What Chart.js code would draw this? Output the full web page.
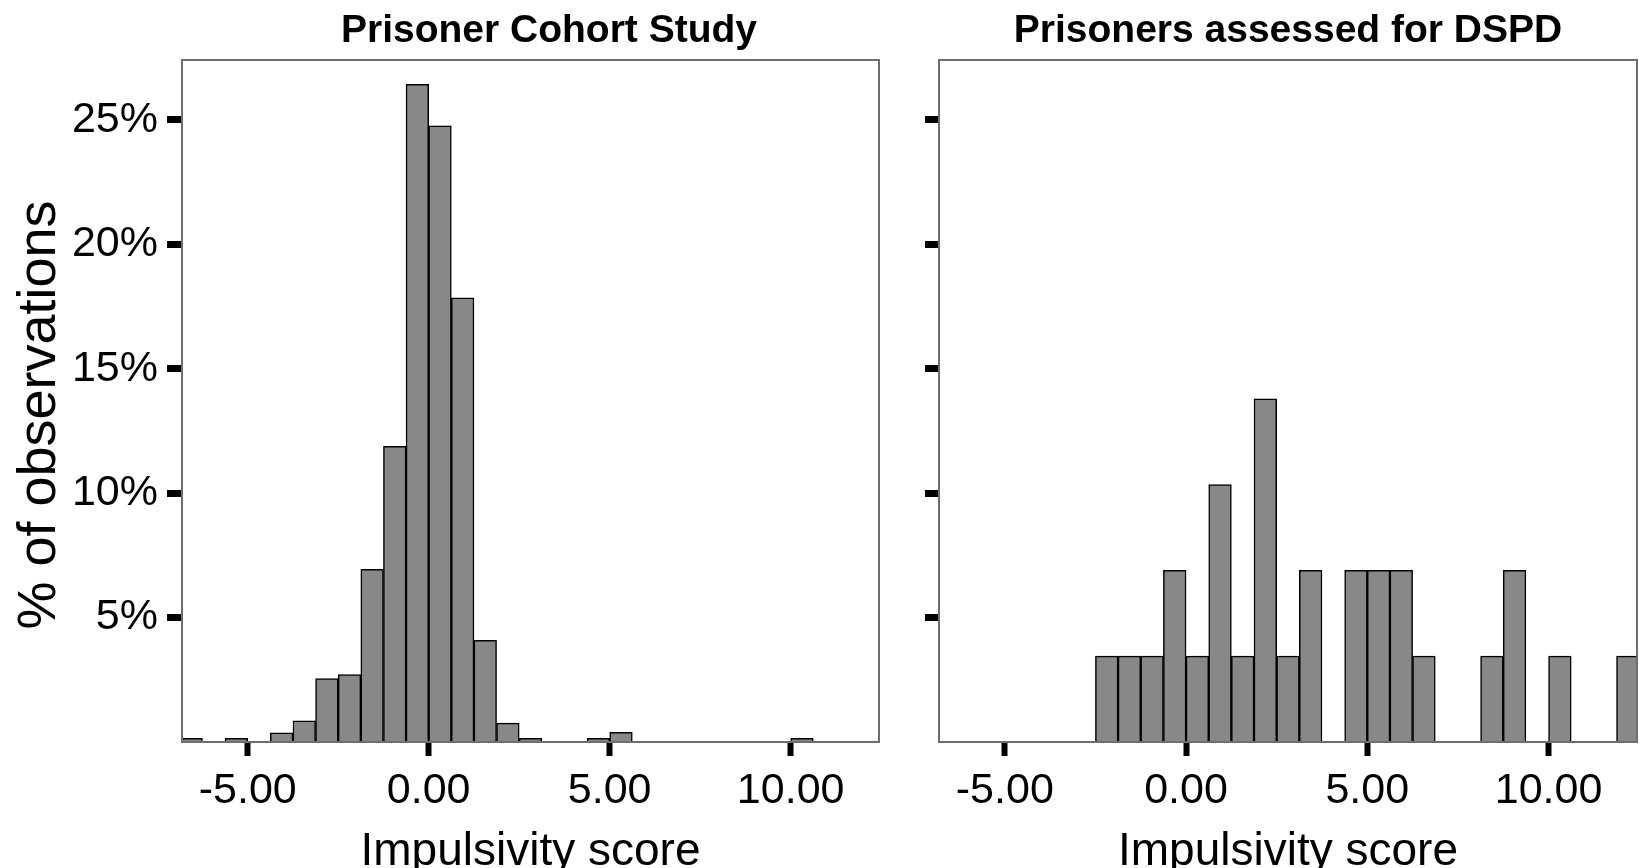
<!DOCTYPE html>
<html><head><meta charset="utf-8">
<script src="https://cdn.jsdelivr.net/npm/chart.js@4.4.0/dist/chart.umd.min.js"></script>
<style>
html,body{margin:0;padding:0;background:#fff;width:1639px;height:868px;overflow:hidden;}
canvas{position:absolute;top:0;}
#c1{left:0;z-index:1;}
#c2{left:900px;z-index:2;}
</style></head><body>
<canvas id="c1" width="1098" height="868"></canvas>
<canvas id="c2" width="739" height="868"></canvas>
<script>
// Histogram bin centres (bin width 0.625)
const binCenters = [-6.5625,-5.9375,-5.3125,-4.6875,-4.0625,-3.4375,-2.8125,-2.1875,-1.5625,-0.9375,
  -0.3125,0.3125,0.9375,1.5625,2.1875,2.8125,3.4375,4.0625,4.6875,5.3125,
  5.9375,6.5625,7.1875,7.8125,8.4375,9.0625,9.6875,10.3125,10.9375,11.5625,12.1875];
// % of observations, Prisoner Cohort Study
const cohortPct = [0.15,null,0.15,null,0.37,0.85,2.55,2.71,6.94,11.88,
  26.42,24.76,17.84,4.08,0.76,0.15,null,null,0.15,0.39,
  null,null,null,null,null,null,null,0.15,null,null,null];
// % of observations, Prisoners assessed for DSPD
const dspdPct = [null,null,null,null,null,null,null,3.45,3.45,3.45,
  6.90,3.45,10.34,3.45,13.79,3.45,6.90,null,6.90,6.90,
  6.90,3.45,null,null,3.45,6.90,null,3.45,null,null,3.45];
const xTickValues = [-5, 0, 5, 10];
const yTickValues = [5, 10, 15, 20, 25];
const panelTitles = ['Prisoner Cohort Study', 'Prisoners assessed for DSPD'];
const xAxisTitle = 'Impulsivity score';
const yAxisTitle = '% of observations';

Chart.defaults.font.family = "'Liberation Sans', Arial, sans-serif";
Chart.defaults.color = '#000';

const framePlugin = {
  id: 'frame',
  afterLayout(chart) {
    // nudge the y-axis title slightly lower (ticks are already configured)
    const y = chart.scales.y;
    if (y && y.options.title.display) { y.top += 14; y.bottom += 14; }
  },
  afterDatasetsDraw(chart) {
    const a = chart.chartArea, ctx = chart.ctx;
    ctx.save();
    ctx.strokeStyle = '#6e6e6e';
    ctx.lineWidth = 2;
    ctx.strokeRect(a.left, a.top, a.right - a.left, a.bottom - a.top);
    ctx.restore();
  }
};

function makeChart(id, title, values, isLeft) {
  const data = binCenters.map((x, i) => ({x: x, y: values[i]}));
  const scales = {
    x: {
      type: 'linear', min: -6.815, max: 12.44, offset: false,
      afterBuildTicks: s => { s.ticks = xTickValues.map(v => ({value: v})); },
      afterFit: s => { s.height = 126; },
      ticks: {callback: v => Number(v).toFixed(2), font: {size: 43}, color: '#000', padding: 9, maxRotation: 0, autoSkip: false},
      grid: {offset: false, drawOnChartArea: false, drawTicks: true, tickLength: 14, tickWidth: 6, tickColor: '#000'},
      border: {display: false},
      title: {display: true, text: xAxisTitle, font: {size: 46}, color: '#000', padding: {top: 0, bottom: -12}}
    },
    y: {
      type: 'linear', min: 0, max: 27.4, position: 'left',
      afterBuildTicks: s => { s.ticks = yTickValues.map(v => ({value: v})); },
      afterFit: s => { s.width = isLeft ? 182 : 39; },
      ticks: {display: isLeft, callback: v => v + '%', font: {size: 43}, color: '#000', padding: 9},
      grid: {offset: false, drawOnChartArea: false, drawTicks: true, tickLength: isLeft ? 15 : 14, tickWidth: 7, tickColor: '#000'},
      border: {display: false},
      title: {display: isLeft, text: yAxisTitle, font: {size: 54}, color: '#000', padding: {top: 8, bottom: 0}}
    }
  };
  if (isLeft) {
    scales.yR = {
      type: 'linear', position: 'right', display: true,
      afterFit: s => { s.width = 219; },
      ticks: {display: false}, grid: {display: false}, border: {display: false}
    };
  }
  return new Chart(document.getElementById(id), {
    type: 'bar',
    data: {datasets: [{
      data: data,
      backgroundColor: '#888888', borderColor: '#000000', borderWidth: 1.5,
      borderSkipped: 'start', barPercentage: 1, categoryPercentage: 1,
      clip: {left: 0, right: 0, top: false, bottom: false}
    }]},
    options: {
      responsive: false, animation: false, devicePixelRatio: 1, events: [],
      layout: {padding: {left: 0, right: isLeft ? 0 : 2, top: 0, bottom: 0}},
      plugins: {
        legend: {display: false}, tooltip: {enabled: false},
        title: {display: true, text: title, fullSize: isLeft, color: '#000',
          font: {size: 39, weight: 'bold'}, padding: {top: 8, bottom: 5.2}}
      },
      scales: scales
    },
    plugins: [framePlugin]
  });
}
makeChart('c1', panelTitles[0], cohortPct, true);
makeChart('c2', panelTitles[1], dspdPct, false);
</script>
</body></html>
